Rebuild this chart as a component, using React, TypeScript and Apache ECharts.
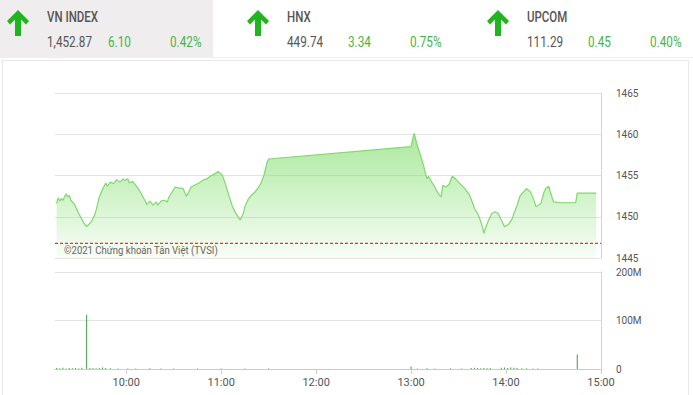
import React, { useEffect, useRef } from "react";
import * as echarts from "echarts";

// ---- data ----
const indexNames = ["VN INDEX", "HNX", "UPCOM"];
const indexValues = ["1,452.87", "449.74", "111.29"];
const indexChanges = ["6.10", "3.34", "0.45"];
const indexPcts = ["0.42%", "0.75%", "0.40%"];

// minutes since midnight
const priceTimes = [
  556, 557, 558, 559, 560, 562, 563, 564, 565, 567, 568, 570, 572, 573, 575, 576, 578, 580, 581, 583,
  585, 587, 588, 590, 592, 594, 596, 598, 599, 601, 602, 604, 606, 608, 610, 612, 613, 615, 617, 619,
  620, 622, 624, 626, 627, 629, 631, 633, 636, 638, 639, 641, 644, 646, 649, 651, 653, 656, 658, 660,
  661, 663, 665, 667, 669, 671, 672, 674, 675, 677, 679, 681, 683, 685, 687, 688, 689, 690,
  780, 781, 782, 783, 784, 786, 788, 790, 791, 793, 795, 796, 798, 799, 800, 802, 804, 806, 808, 810,
  812, 814, 816, 817, 819, 820, 822, 823, 825, 826, 827, 829, 831, 833, 835, 837, 839, 841, 842, 844,
  845, 847, 849, 851, 853, 855, 856, 858, 859, 861, 862, 864, 865, 867, 868, 870, 874, 884, 885, 897,
];
const priceValues = [
  1451.6, 1452.3, 1451.9, 1452.2, 1452.0, 1452.8, 1452.4, 1452.6, 1452.0, 1451.6, 1451.2, 1450.4, 1449.7, 1449.3, 1448.8, 1449.0, 1449.4, 1450.2, 1450.8, 1452.4,
  1453.3, 1454.1, 1453.7, 1454.2, 1454.0, 1454.5, 1454.2, 1454.6, 1454.4, 1454.6, 1454.1, 1454.3, 1453.8, 1453.3, 1452.6, 1451.9, 1451.5, 1451.9, 1451.4, 1451.8,
  1451.4, 1451.9, 1452.0, 1451.8, 1452.4, 1453.0, 1453.6, 1453.5, 1453.4, 1452.5, 1452.8, 1453.6, 1453.9, 1454.1, 1454.5, 1454.6, 1454.9, 1455.2, 1455.5, 1455.2,
  1454.9, 1453.8, 1452.5, 1451.3, 1450.5, 1449.9, 1449.6, 1450.4, 1451.2, 1452.1, 1452.6, 1452.9, 1453.4, 1454.0, 1455.0, 1455.8, 1456.6, 1457.0,
  1458.5, 1459.4, 1460.1, 1459.3, 1458.6, 1457.4, 1456.1, 1454.6, 1454.9, 1454.2, 1453.6, 1453.2, 1452.6, 1452.4, 1453.8, 1453.6, 1453.9, 1454.9, 1454.6, 1454.2,
  1453.8, 1453.4, 1452.9, 1452.6, 1451.6, 1451.0, 1450.4, 1450.0, 1448.8, 1448.0, 1448.6, 1449.6, 1450.4, 1450.6, 1450.4, 1449.6, 1448.8, 1449.0, 1449.2, 1449.8,
  1450.4, 1451.4, 1452.6, 1453.0, 1453.4, 1453.1, 1452.8, 1451.8, 1451.2, 1451.5, 1451.6, 1453.0, 1453.4, 1453.7, 1453.0, 1451.8, 1451.7, 1451.7, 1452.87, 1452.87,
];
const refPrice = 1446.77;
const refSpan = [555, 900];

const volTimes = [
  556, 558, 560, 562, 564, 566, 568, 570, 572, 575, 577, 579, 581, 583, 585, 587, 590, 595, 601, 606,
  615, 622, 630, 645, 660, 675, 690, 780, 784, 790, 795, 805, 812, 818, 820, 822, 824, 826, 828, 830,
  837, 839, 841, 843, 845, 847, 850, 853, 857, 860, 885,
];
const volValues = [
  2, 1.5, 2.5, 1, 2, 1.5, 2, 1, 2.5, 112, 2, 2, 1.5, 2, 3, 2, 1.5, 1, 1, 1,
  1.5, 1, 1, 1, 1, 1, 1, 5, 1, 1.5, 1, 1.5, 1, 2, 2.5, 2, 1.5, 2, 1.5, 2,
  2.5, 3, 2, 3, 2.5, 2, 1.5, 1.5, 1, 1, 30,
]; // millions

const timeTicks = [600, 660, 720, 780, 840, 900];
const copyrightText = "©2021 Chứng khoán Tân Việt (TVSI)";

const fmtTime = (v: number) => {
  const h = Math.floor(v / 60);
  const m = Math.round(v % 60);
  return `${h}:${m < 10 ? "0" + m : m}`;
};

export default function App() {
  const ref = useRef<HTMLDivElement>(null);
  useEffect(() => {
    if (!ref.current) return;
    const chart = echarts.init(ref.current, null, { renderer: "svg" });
    const font = "Roboto";
    const graphics: any[] = [
      { type: "rect", z: 0, shape: { x: 0, y: 0, width: 213, height: 57 }, style: { fill: "#efeded" } },
      { type: "line", z: 0, shape: { x1: 0, y1: 57.5, x2: 693, y2: 57.5 }, style: { stroke: "#eeeeee", lineWidth: 1 } },
      { type: "rect", z: 0, shape: { x: 2.5, y: 60.5, width: 686, height: 340 }, style: { fill: "none", stroke: "#e8e8e8", lineWidth: 1 } },
    ];
    indexNames.forEach((name, i) => {
      const ox = i * 240;
      const cx = ox + 18;
      graphics.push({
        type: "polygon",
        z: 10,
        shape: {
          points: [
            [cx, 10], [cx + 11, 21], [cx + 8, 24.5], [cx + 3, 19.5], [cx + 3, 36],
            [cx - 3, 36], [cx - 3, 19.5], [cx - 8, 24.5], [cx - 11, 21],
          ],
        },
        style: { fill: "#1fb51f" },
      });
      graphics.push({
        type: "text", z: 10, x: ox + 47, y: 17, scaleX: 0.82,
        style: { text: name, fill: "#555555", fontSize: 14, fontWeight: 500, fontFamily: font, verticalAlign: "middle" },
      });
      graphics.push({
        type: "text", z: 10, x: ox + 47, y: 42, scaleX: 0.84,
        style: { text: indexValues[i], fill: "#555555", fontSize: 14, fontFamily: font, verticalAlign: "middle" },
      });
      graphics.push({
        type: "text", z: 10, x: ox + 108, y: 42, scaleX: 0.84,
        style: { text: indexChanges[i], fill: "#45b545", fontSize: 14, fontFamily: font, verticalAlign: "middle" },
      });
      graphics.push({
        type: "text", z: 10, x: ox + 170, y: 42, scaleX: 0.84,
        style: { text: indexPcts[i], fill: "#45b545", fontSize: 14, fontFamily: font, verticalAlign: "middle" },
      });
    });
    graphics.push({
      type: "text", z: 10, x: 64, y: 250, scaleX: 0.87,
      style: { text: copyrightText, fill: "#666666", fontSize: 11, fontFamily: font, verticalAlign: "middle" },
    });

    const priceData = priceTimes.map((t, i) => [t, priceValues[i]]);
    const volData = volTimes.map((t, i) => [t, volValues[i] * 1e6]);
    const refData = refSpan.map((t) => [t, refPrice]);

    chart.setOption({
      animation: false,
      backgroundColor: "#ffffff",
      graphic: graphics,
      grid: [
        { left: 55, right: 92, top: 93, height: 165 },
        { left: 55, right: 92, top: 272, height: 97 },
      ],
      xAxis: [
        {
          type: "value", gridIndex: 0, min: 555, max: 900, show: false,
          splitLine: { show: false },
        },
        {
          type: "value", gridIndex: 1, min: 555, max: 900,
          axisLine: { show: true, lineStyle: { color: "#cccccc" } },
          axisTick: { show: true, customValues: timeTicks, length: 5, lineStyle: { color: "#cccccc" } },
          axisLabel: { customValues: timeTicks, formatter: (v: number) => fmtTime(v), color: "#555555", fontSize: 11, fontFamily: font, margin: 8 },
          splitLine: { show: false },
        },
      ],
      yAxis: [
        {
          type: "value", gridIndex: 0, position: "right", min: 1445, max: 1465, interval: 5,
          axisLine: { show: true, lineStyle: { color: "#ccd6e0" } },
          axisTick: { show: false },
          axisLabel: { color: "#555555", fontSize: 10, fontFamily: font, margin: 15, formatter: (v: number) => String(v) },
          splitLine: { show: true, lineStyle: { color: "#e3e3e3" } },
        },
        {
          type: "value", gridIndex: 1, position: "right", min: 0, max: 200e6, interval: 100e6,
          axisLine: { show: true, lineStyle: { color: "#ccd6e0" } },
          axisTick: { show: false },
          axisLabel: {
            color: "#555555", fontSize: 10, fontFamily: font, margin: 15,
            formatter: (v: number) => (v === 0 ? "0" : `${v / 1e6}M`),
          },
          splitLine: { show: true, lineStyle: { color: "#e3e3e3" } },
        },
      ],
      series: [
        {
          type: "line",
          xAxisIndex: 0,
          yAxisIndex: 0,
          data: priceData,
          showSymbol: false,
          lineStyle: { color: "#7ed86c", width: 1.2 },
          areaStyle: {
            origin: "start",
            color: new echarts.graphic.LinearGradient(0, 0, 0, 1, [
              { offset: 0, color: "rgba(128,222,108,0.95)" },
              { offset: 1, color: "rgba(128,222,108,0.08)" },
            ]),
          },
        },
        {
          type: "line",
          xAxisIndex: 0,
          yAxisIndex: 0,
          data: refData,
          showSymbol: false,
          silent: true,
          z: 5,
          color: "#ff2a1a",
          lineStyle: { color: "#ff2a1a", type: [3, 2], width: 1.3, cap: "butt" },
        },
        {
          type: "bar",
          xAxisIndex: 1,
          yAxisIndex: 1,
          data: volData,
          barWidth: 1,
          itemStyle: { color: "#3f9a3f" },
        },
      ],
    });
    return () => chart.dispose();
  }, []);
  return (
    <div
      ref={ref}
      style={{ position: "fixed", left: 0, top: 0, width: 693, height: 395, background: "#fff" }}
    />
  );
}
